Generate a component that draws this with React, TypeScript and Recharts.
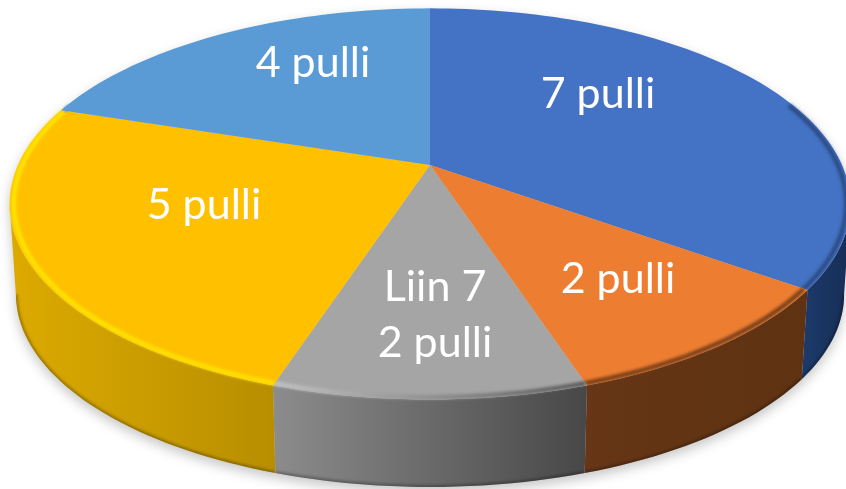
import { PieChart, Pie } from 'recharts';

const counts = [7, 2, 2, 5, 4];
const sliceNames = ['Liin 3', 'Liin 5', 'Liin 7', 'Liin 1', 'Liin 2'];
const labelLines = [['7 pulli'], ['2 pulli'], ['Liin 7', '2 pulli'], ['5 pulli'], ['4 pulli']];
const faceColors = ['#4472c4', '#ed7d31', '#a5a5a5', '#ffc000', '#5b9bd5'];
const wallLeft = ['#1c3a6b', '#663616', '#8c8c8c', '#dcaa00', '#355d82'];
const wallRight = ['#172e56', '#5e3212', '#474747', '#b88e00', '#355d82'];
const rimLeft = ['#2c4c85', '#7a4018', '#c4c4c4', '#ffe600', '#5b9bd5'];
const rimRight = ['#2c4c85', '#7a4018', '#5a5a5a', '#ffdf00', '#5b9bd5'];
const labelOffsets = [[168, -71], [188, 114], [5, 150], [-226, 40], [-117, -102]];

const data = counts.map((value, i) => ({ name: sliceNames[i], value, fill: faceColors[i] }));

// fake 3D: the disc is tilted, so near points spread out and far ones shrink
const PERSPECTIVE = 0.199;
const TILT = 0.456;
const WALL_DROP = 91;
const WALL_SCALE = 0.985;
const TANGENT = (Math.acos(-PERSPECTIVE) * 180) / Math.PI;

function project(cx: number, cy: number, r: number, theta: number, scale = 1) {
  const rad = (theta * Math.PI) / 180;
  const u = Math.sin(rad);
  const v = -Math.cos(rad);
  const d = 1 - PERSPECTIVE * v;
  return [cx + (scale * r * u) / d, cy + (scale * r * TILT * v) / d];
}

function arc(cx: number, cy: number, r: number, from: number, to: number, scale = 1, drop = 0) {
  const n = Math.max(2, Math.ceil(Math.abs(to - from) / 1.5));
  const pts: string[] = [];
  for (let i = 0; i <= n; i++) {
    const [x, y] = project(cx, cy, r, from + ((to - from) * i) / n, scale);
    pts.push(`${x.toFixed(1)} ${(y + drop).toFixed(1)}`);
  }
  return pts;
}

function Slice3D(props: any) {
  const { cx, cy, outerRadius, startAngle, endAngle, fill, index } = props;
  const i = index ?? faceColors.indexOf(fill);
  const t0 = 90 - startAngle;
  const t1 = 90 - endAngle;
  const wall0 = Math.max(t0, TANGENT);
  const wall1 = Math.min(t1, 360 - TANGENT);
  const rim0 = Math.max(t0, 70);
  const rim1 = Math.min(t1, 290);
  const face = `M${cx} ${cy} L${arc(cx, cy, outerRadius, t0, t1).join(' L')} Z`;
  let wall = '';
  let wallEdge = '';
  if (wall1 > wall0) {
    const top = arc(cx, cy, outerRadius, wall0, wall1);
    const bottom = arc(cx, cy, outerRadius, wall1, wall0, WALL_SCALE, WALL_DROP);
    wall = `M${top.join(' L')} L${bottom.join(' L')} Z`;
    wallEdge = `M${bottom.join(' L')}`;
  }
  return (
    <g>
      <defs>
        <linearGradient id={`wall${i}`}>
          <stop offset="0" stopColor={wallLeft[i]} />
          <stop offset="1" stopColor={wallRight[i]} />
        </linearGradient>
        <linearGradient id={`rim${i}`}>
          <stop offset="0" stopColor={rimLeft[i]} />
          <stop offset="1" stopColor={rimRight[i]} />
        </linearGradient>
        <filter id={`soft${i}`} x="-10%" y="-30%" width="120%" height="160%">
          <feGaussianBlur stdDeviation="1.8" />
        </filter>
        <clipPath id={`wallClip${i}`}>{wall && <path d={wall} />}</clipPath>
      </defs>
      {wall && <path d={wall} fill={`url(#wall${i})`} />}
      {wallEdge && (
        <g clipPath={`url(#wallClip${i})`}>
          <path d={wallEdge} fill="none" stroke="rgba(0,0,0,0.3)" strokeWidth={4} filter={`url(#soft${i})`} />
        </g>
      )}
      <path d={face} fill={fill} />
      {rim1 > rim0 && (
        <path
          d={`M${arc(cx, cy, outerRadius * 0.99, rim0, rim1).join(' L')}`}
          fill="none"
          stroke={`url(#rim${i})`}
          strokeWidth={4.5}
          filter={`url(#soft${i})`}
        />
      )}
    </g>
  );
}

function SliceLabel(props: any) {
  const { cx, cy, index } = props;
  const lines = labelLines[index];
  const [dx, dy] = labelOffsets[index];
  const lineGap = 56;
  return (
    <text
      x={cx + dx}
      y={cy + dy - ((lines.length - 1) * lineGap) / 2 + 14}
      textAnchor="middle"
      fill="#fff"
      style={{ fontFamily: 'Lato, sans-serif', fontSize: 43 }}
    >
      {lines.map((line, k) => (
        <tspan key={line} x={cx + dx} dy={k === 0 ? 0 : lineGap}>
          {line}
        </tspan>
      ))}
    </text>
  );
}

export default function App() {
  return (
    <div style={{ position: 'absolute', left: 0, top: 0, width: 846, height: 489, overflow: 'hidden', background: '#fff' }}>
      <div style={{ filter: 'drop-shadow(0 5px 6px rgba(0,0,0,0.22))' }}>
        <PieChart width={846} height={489} margin={{ top: 0, right: 0, bottom: 0, left: 0 }}>
          <Pie
            data={data}
            dataKey="value"
            nameKey="name"
            cx={430}
            cy={165}
            innerRadius={0}
            outerRadius={412}
            startAngle={90}
            endAngle={-270}
            stroke="none"
            shape={Slice3D}
            label={SliceLabel}
            labelLine={false}
            isAnimationActive={false}
          />
        </PieChart>
      </div>
    </div>
  );
}
